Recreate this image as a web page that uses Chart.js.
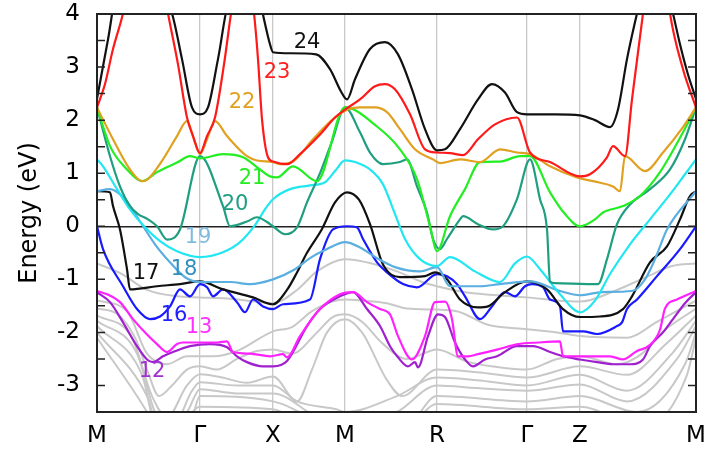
<!DOCTYPE html>
<html>
<head>
<meta charset="utf-8">
<script src="https://cdn.jsdelivr.net/npm/chart.js@4.4.0/dist/chart.umd.min.js"></script>
<style>
  html, body { margin: 0; padding: 0; background: #fff; }
  #wrap { width: 705px; height: 452px; }
</style>
</head>
<body>
<div id="wrap"><canvas id="bands"></canvas></div>
<script>
// high-symmetry points along the k-path
const symK = [0, 103, 176, 248, 340, 430, 483, 599];
const symLabels = ['M', 'Γ', 'X', 'M', 'R', 'Γ', 'Z', 'M'];

// bands, [k, energy in eV]
const band24 = [[0,2.4],[11,3.52],[21,4.47],[63,4.47],[75,4.01],[85,3.15],[95,2.24],[103,2.11],[111,2.24],[121,3.15],[133,4.28],[161,4.4],[167,3.9],[173,3.43],[176,3.28],[193,3.26],[219,3.24],[233,2.96],[244,2.54],[250,2.39],[258,2.77],[273,3.34],[288,3.47],[301,3.24],[315,2.58],[328,1.83],[340,1.43],[348,1.45],[363,1.83],[381,2.39],[395,2.68],[408,2.52],[420,2.15],[430,2.11],[458,2.11],[483,2.09],[498,2.0],[513,1.87],[521,2.2],[530,3.15],[540,4.01],[548,4.65],[568,4.65],[576,4.01],[583,3.43],[591,2.86],[599,2.4]];
const band23 = [[0,2.24],[8,2.68],[16,3.34],[26,4.01],[31,4.47],[63,4.84],[71,4.01],[81,3.05],[90,2.05],[96,1.7],[103,1.38],[110,1.7],[118,2.05],[127,3.05],[134,4.01],[139,4.6],[153,4.47],[157,4.01],[161,3.15],[165,2.02],[171,1.3],[176,1.22],[190,1.17],[203,1.36],[223,1.73],[238,2.05],[248,2.2],[263,2.39],[278,2.64],[288,2.68],[298,2.58],[313,2.11],[328,1.45],[340,1.39],[353,1.38],[366,1.34],[381,1.64],[398,1.92],[420,2.05],[433,1.39],[453,1.21],[483,0.94],[493,0.98],[510,1.3],[516,1.51],[528,1.32],[535,2.39],[546,4.01],[552,4.8],[568,4.8],[573,4.01],[586,2.96],[599,2.24]];
const band22 = [[0,2.24],[16,1.64],[33,1.07],[45,0.85],[51,0.89],[66,1.26],[80,1.7],[90,1.98],[97,1.64],[103,1.36],[110,1.64],[118,1.98],[130,1.7],[150,1.32],[160,1.24],[176,1.21],[183,1.17],[196,1.22],[216,1.64],[236,2.02],[251,2.2],[263,2.24],[278,2.24],[290,2.15],[303,1.83],[318,1.45],[336,1.26],[343,1.19],[363,1.26],[383,1.21],[403,1.45],[420,1.39],[433,1.36],[453,1.13],[480,0.92],[496,0.85],[516,0.75],[523,0.66],[528,1.32],[548,1.04],[566,1.39],[586,1.87],[599,2.24]];
const band21 = [[0,2.24],[13,1.51],[30,1.07],[45,0.85],[60,1.02],[80,1.2],[93,1.32],[103,1.28],[126,1.36],[146,1.3],[163,1.07],[173,0.94],[180,0.92],[196,1.13],[220,0.85],[248,2.24],[280,1.88],[303,1.45],[320,0.89],[333,0.0],[340,-0.47],[353,0.19],[368,0.7],[383,1.21],[403,1.22],[423,1.32],[433,1.32],[453,0.64],[468,0.23],[483,0.0],[498,0.13],[506,0.26],[526,0.38],[543,0.57],[563,1.02],[586,1.77],[599,2.24]];
const band20 = [[0,2.24],[13,1.32],[23,0.75],[33,0.38],[41,0.23],[51,0.13],[60,0.0],[70,-0.25],[83,-0.06],[103,1.32],[126,0.38],[133,0.0],[150,0.09],[160,0.17],[170,0.08],[176,0.0],[188,-0.15],[200,-0.02],[210,0.45],[223,1.0],[235,1.6],[248,2.24],[263,1.77],[273,1.39],[286,1.17],[303,1.21],[310,1.26],[320,0.75],[330,0.26],[336,-0.24],[343,-0.43],[350,-0.24],[363,0.13],[366,0.19],[381,0.04],[396,-0.06],[406,0.0],[420,0.51],[433,1.26],[443,0.51],[450,-0.06],[453,-1.04],[458,-1.07],[501,-1.09],[510,-0.62],[520,0.04],[533,0.41],[553,0.7],[573,1.07],[588,1.64],[599,2.24]];
const band19 = [[0,1.26],[6,1.13],[20,0.7],[33,0.32],[48,-0.02],[63,-0.28],[80,-0.47],[103,-0.58],[126,-0.49],[143,-0.3],[158,0.02],[168,0.32],[176,0.51],[193,0.7],[213,0.77],[228,0.83],[238,1.04],[248,1.24],[258,1.21],[273,1.07],[286,0.79],[298,0.23],[308,-0.24],[323,-0.62],[340,-0.75],[353,-0.58],[378,-0.85],[403,-1.05],[418,-0.7],[430,-0.57],[443,-0.81],[463,-1.28],[483,-1.62],[498,-1.4],[513,-0.9],[533,-0.34],[553,0.13],[573,0.6],[588,0.98],[599,1.26]];
const band18 = [[0,0.66],[13,0.7],[28,0.51],[43,0.09],[58,-0.34],[73,-0.68],[88,-0.96],[103,-1.05],[133,-1.05],[153,-1.09],[176,-1.0],[198,-0.81],[213,-0.6],[230,-0.43],[248,-0.3],[263,-0.4],[280,-0.6],[298,-0.77],[323,-0.85],[340,-0.77],[353,-1.13],[383,-1.13],[403,-1.09],[433,-1.04],[463,-1.22],[483,-1.3],[505,-1.24],[535,-1.22],[548,-1.0],[558,-0.62],[570,-0.06],[599,0.66]];
const band17 = [[0,0.66],[13,0.64],[16,0.38],[23,-0.06],[30,-0.81],[33,-1.19],[60,-1.13],[83,-1.09],[103,-1.04],[126,-1.19],[156,-1.34],[176,-1.47],[190,-1.2],[200,-0.87],[210,-0.5],[225,-0.05],[238,0.45],[250,0.64],[262,0.5],[273,0.04],[286,-0.72],[303,-0.96],[328,-0.94],[338,-0.87],[350,-1.0],[363,-1.38],[381,-1.53],[391,-1.51],[408,-1.24],[430,-1.04],[450,-1.19],[466,-1.56],[483,-1.71],[503,-1.7],[526,-1.56],[535,-1.32],[553,-0.68],[570,-0.38],[583,0.13],[593,0.57],[599,0.66]];
const band16 = [[0,0.0],[6,-0.43],[26,-1.13],[40,-1.56],[53,-1.75],[63,-1.7],[73,-1.51],[83,-1.19],[93,-1.32],[103,-1.09],[110,-1.15],[116,-1.32],[126,-1.19],[140,-1.43],[148,-1.62],[156,-1.38],[166,-1.51],[176,-1.56],[186,-1.47],[213,-1.38],[223,-0.62],[236,-0.06],[250,0.0],[260,-0.02],[266,-0.24],[280,-0.68],[290,-0.87],[306,-1.09],[320,-1.15],[340,-0.9],[350,-0.94],[360,-1.09],[368,-1.32],[383,-1.75],[395,-1.51],[408,-1.24],[418,-1.32],[428,-1.13],[435,-1.09],[446,-1.15],[453,-1.38],[463,-1.51],[466,-1.98],[486,-1.98],[500,-2.03],[520,-1.88],[525,-1.81],[530,-1.56],[540,-1.38],[560,-0.94],[583,-0.43],[599,0.0]];
const band13 = [[0,-1.22],[10,-1.28],[23,-1.43],[36,-1.75],[50,-2.04],[60,-2.22],[70,-2.37],[80,-2.22],[86,-2.19],[103,-2.19],[120,-2.19],[130,-2.17],[136,-2.37],[153,-2.4],[173,-2.45],[186,-2.41],[190,-2.47],[203,-2.07],[223,-1.56],[243,-1.28],[256,-1.24],[270,-1.43],[283,-1.56],[293,-1.66],[301,-2.07],[315,-2.51],[328,-2.07],[338,-1.43],[348,-1.42],[355,-1.75],[361,-2.45],[371,-2.45],[381,-2.41],[401,-2.32],[421,-2.22],[441,-2.19],[463,-2.17],[466,-2.45],[486,-2.45],[513,-2.45],[526,-2.51],[540,-2.35],[552,-2.25],[563,-1.95],[568,-1.55],[580,-1.38],[599,-1.22]];
const band12 = [[0,-1.24],[13,-1.43],[26,-1.81],[40,-2.26],[50,-2.51],[56,-2.56],[66,-2.45],[76,-2.37],[93,-2.26],[113,-2.22],[130,-2.28],[140,-2.45],[150,-2.56],[166,-2.64],[176,-2.64],[190,-2.54],[210,-1.88],[223,-1.56],[243,-1.32],[256,-1.24],[270,-1.56],[283,-1.88],[293,-2.26],[301,-2.47],[311,-2.64],[318,-2.56],[321,-2.66],[331,-2.07],[341,-1.66],[348,-1.71],[358,-2.19],[368,-2.51],[376,-2.64],[388,-2.51],[400,-2.45],[420,-2.26],[436,-2.26],[453,-2.37],[466,-2.45],[483,-2.51],[500,-2.56],[516,-2.6],[533,-2.6],[546,-2.51],[553,-2.26],[566,-2.0],[576,-1.75],[588,-1.45],[599,-1.24]];

// the grey (unlabelled) bands
const grayA = [[0,-0.7],[25,-0.9],[50,-1.2],[80,-1.32],[103,-1.34],[130,-1.36],[160,-1.42],[176,-1.45],[200,-1.2],[220,-0.85],[248,-0.62],[275,-0.7],[300,-0.85],[325,-1.05],[340,-1.13],[370,-1.25],[400,-1.3],[430,-1.34],[460,-1.4],[483,-1.42],[520,-1.2],[550,-0.95],[575,-0.75],[599,-0.7]];
const grayB = [[0,-1.4],[30,-1.6],[50,-2.4],[70,-2.6],[90,-2.45],[103,-2.45],[116,-2.45],[140,-2.35],[176,-1.98],[195,-1.9],[215,-1.6],[235,-1.42],[248,-1.38],[265,-1.4],[290,-1.45],[310,-1.55],[340,-1.57],[360,-1.6],[390,-1.85],[430,-1.94],[460,-2.0],[483,-2.07],[530,-2.1],[560,-1.8],[599,-1.4]];
const grayC = [[0,-1.55],[20,-1.65],[38,-2.1],[50,-2.7],[62,-3.2],[75,-3.0],[90,-2.7],[103,-2.64],[120,-2.7],[140,-2.5],[160,-2.35],[176,-2.32],[195,-2.4],[220,-2.0],[235,-1.72],[248,-1.66],[265,-1.8],[285,-2.2],[310,-2.5],[340,-2.32],[370,-2.55],[400,-2.65],[430,-2.7],[460,-2.5],[483,-2.45],[520,-2.6],[545,-2.4],[565,-2.0],[599,-1.55]];
const grayD = [[0,-1.68],[35,-2.1],[55,-3.2],[70,-3.6],[90,-3.0],[103,-2.79],[125,-2.85],[150,-2.95],[176,-2.83],[200,-3.3],[215,-2.7],[230,-2.0],[248,-1.75],[265,-2.0],[290,-2.9],[305,-3.2],[340,-2.7],[380,-2.75],[430,-2.85],[483,-2.64],[530,-2.8],[570,-2.2],[599,-1.68]];
const grayE = [[0,-1.78],[40,-2.4],[58,-3.5],[75,-3.8],[95,-3.1],[103,-2.94],[140,-3.0],[176,-3.0],[200,-3.3],[240,-3.45],[248,-3.5],[300,-3.2],[340,-2.85],[380,-2.9],[430,-3.0],[483,-2.8],[530,-3.1],[575,-2.4],[599,-1.78]];
const grayF = [[0,-1.88],[45,-2.8],[60,-3.8],[90,-3.5],[103,-3.07],[140,-3.15],[176,-3.15],[220,-3.6],[248,-3.8],[300,-3.5],[340,-3.0],[380,-3.05],[430,-3.1],[483,-2.98],[530,-3.3],[580,-2.5],[599,-1.88]];
const grayG = [[0,-2.0],[50,-3.2],[65,-4.0],[95,-3.6],[103,-3.2],[176,-3.3],[230,-3.8],[248,-4.0],[310,-3.8],[340,-3.2],[430,-3.3],[483,-3.2],[540,-3.5],[588,-2.6],[599,-2.0]];
const grayH = [[0,-2.1],[50,-3.5],[70,-4.2],[103,-3.4],[176,-3.45],[230,-4.0],[300,-4.0],[340,-3.35],[430,-3.45],[483,-3.4],[545,-3.8],[590,-2.8],[599,-2.1]];

// band index labels: [text, k, energy, colour]
const bandLabels = [
  ['24', 210, 3.47, '#111111'],
  ['23', 180, 2.9, '#ff2020'],
  ['22', 145, 2.34, '#e0a020'],
  ['21', 155, 0.89, '#22ee22'],
  ['20', 138, 0.41, '#1f9e80'],
  ['19', 101, -0.21, '#80bce0'],
  ['18', 87, -0.81, '#2f8fc0'],
  ['17', 49, -0.9, '#111111'],
  ['16', 77, -1.68, '#2222ff'],
  ['13', 102, -1.9, '#ff30ff'],
  ['12', 55, -2.73, '#a030d0']
];

const coloured = [
  [band24, '#111111'], [band23, '#ff1a1a'], [band22, '#e0a020'],
  [band21, '#22ee22'], [band20, '#1f9e80'], [band19, '#22e6f0'],
  [band18, '#5aaee0'], [band17, '#111111'], [band16, '#1a1aff'],
  [band13, '#ff22ff'], [band12, '#a020d0']
];
const greys = [grayA, grayB, grayC, grayD, grayE, grayF, grayG, grayH];

function toPts(arr) { return arr.map(p => ({ x: p[0], y: p[1] })); }

const datasets = [];
coloured.forEach(c => {
  datasets.push({ data: toPts(c[0]), borderColor: c[1], borderWidth: 2.2 });
});
greys.forEach(g => {
  datasets.push({ data: toPts(g), borderColor: '#c8c8c8', borderWidth: 2 });
});

// frame, inward tick marks and band numbers
const decor = {
  id: 'decor',
  afterDatasetsDraw(chart) {
    const ctx = chart.ctx;
    const a = chart.chartArea;
    const ys = chart.scales.y;
    const xs = chart.scales.x;
    ctx.save();
    ctx.font = '21px "DejaVu Sans"';
    ctx.textAlign = 'center';
    ctx.textBaseline = 'middle';
    bandLabels.forEach(l => {
      ctx.fillStyle = l[3];
      ctx.fillText(l[0], xs.getPixelForValue(l[1]), ys.getPixelForValue(l[2]));
    });
    ctx.strokeStyle = '#222';
    ctx.lineWidth = 1.5;
    for (let v = -3.5; v <= 4; v += 0.5) {
      const y = ys.getPixelForValue(v);
      ctx.beginPath();
      ctx.moveTo(a.left, y); ctx.lineTo(a.left + 8, y);
      ctx.moveTo(a.right, y); ctx.lineTo(a.right - 8, y);
      ctx.stroke();
    }
    ctx.lineWidth = 2;
    ctx.strokeRect(a.left, a.top, a.right - a.left, a.bottom - a.top);
    ctx.restore();
  }
};

new Chart(document.getElementById('bands'), {
  type: 'line',
  data: { datasets: datasets },
  options: {
    responsive: true,
    maintainAspectRatio: false,
    animation: false,
    layout: { padding: { left: 0, right: 9, top: 14, bottom: 0 } },
    elements: {
      point: { radius: 0 },
      line: { cubicInterpolationMode: 'monotone', fill: false }
    },
    plugins: { legend: { display: false }, tooltip: { enabled: false } },
    scales: {
      x: {
        type: 'linear',
        min: 0, max: 599,
        afterBuildTicks: s => { s.ticks = symK.map(v => ({ value: v })); },
        afterFit: s => { s.height = 40; s.paddingLeft = 0; s.paddingRight = 0; },
        ticks: {
          autoSkip: false, maxRotation: 0, padding: 10,
          color: '#000', font: { family: 'DejaVu Sans', size: 23 },
          callback: v => symLabels[symK.indexOf(v)]
        },
        grid: { color: '#c8c8c8', lineWidth: 1.3, drawTicks: false },
        border: { display: false }
      },
      y: {
        min: -3.5, max: 4,
        afterFit: s => { s.width = 97; s.paddingTop = 0; s.paddingBottom = 0; },
        ticks: {
          stepSize: 0.5, padding: 17, autoSkip: false,
          color: '#000', font: { family: 'DejaVu Sans', size: 23 },
          callback: v => (Number.isInteger(v) && v > -3.5) ? String(v) : ''
        },
        grid: {
          drawTicks: false, lineWidth: 1.5,
          color: c => (c.tick && c.tick.value === 0) ? '#222' : 'rgba(0,0,0,0)'
        },
        border: { display: false },
        title: {
          display: true, text: 'Energy (eV)', color: '#000',
          font: { family: 'DejaVu Sans', size: 24 }, padding: { top: 15, bottom: 0 }
        }
      }
    }
  },
  plugins: [decor]
});
</script>
</body>
</html>
